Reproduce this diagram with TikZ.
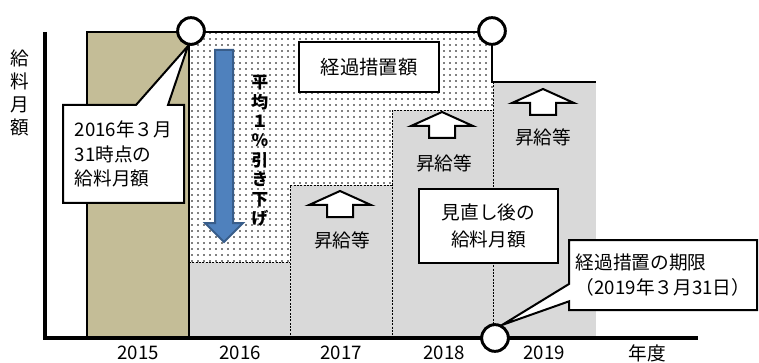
\documentclass[tikz,border=0pt]{standalone}
\usepackage{fontspec}
\setmainfont{Noto Sans CJK JP}
\usepackage{xcolor}
\usetikzlibrary{shapes.callouts,patterns}

\definecolor{tanbar}{HTML}{C4BD97}
\definecolor{graybar}{HTML}{D9D9D9}
\definecolor{cutblue}{HTML}{4F81BD}
\definecolor{cutedge}{HTML}{385D8A}

% sparse dot screen for the transitional amount
\pgfdeclarepatternformonly{sparsedots}{\pgfqpoint{-1pt}{-1pt}}{\pgfqpoint{1pt}{1pt}}{\pgfqpoint{4.5pt}{4.5pt}}%
  {\pgfpathcircle{\pgfqpoint{0pt}{0pt}}{0.65pt}\pgfusepath{fill}}

% white block arrow pointing up, tip at (#1,#2)
\newcommand{\raisearrow}[2]{%
  \draw[upblock] (#1,#2) -- ++(31,14) -- ++(-18,0) -- ++(0,12) -- ++(-26,0)
    -- ++(0,-12) -- ++(-18,0) -- cycle;}

\begin{document}
\begin{tikzpicture}[
    x=0.75pt, y=-0.75pt,
    font=\fontsize{14}{18}\selectfont,
    axisline/.style={line width=2.4pt},
    outline/.style={line width=1.8pt, line join=miter},
    gap/.style={line width=0.6pt, dash pattern=on 1.5pt off 1pt},
    upblock/.style={draw, fill=white, line width=1.5pt, line join=miter},
    lbl/.style={inner sep=0pt},
    textbox/.style={draw, fill=white, inner sep=0pt},
    speech/.style={rectangle callout, draw, fill=white, line width=1.5pt, inner sep=0pt},
    ring/.style={circle, draw, fill=white, line width=2.2pt, minimum size=20pt, inner sep=0pt},
]
    \useasboundingbox (0,0) rectangle (759,363);

    % Transitional amount (dotted)
    \fill[white] (189,32) -- (493,32) -- (493,110) -- (392,110) -- (392,185)
        -- (290,185) -- (290,262) -- (189,262) -- cycle;
    \fill[pattern=sparsedots, pattern color=black] (189,32) -- (493,32) -- (493,110)
        -- (392,110) -- (392,185) -- (290,185) -- (290,262) -- (189,262) -- cycle;

    % Bars
    \fill[tanbar] (87,32) rectangle (189,338);
    \fill[graybar] (189,262) rectangle (290,338);
    \fill[graybar] (290,185) rectangle (392,338);
    \fill[graybar] (392,110) rectangle (493,338);
    \fill[graybar] (493,82) rectangle (596,338);
    \draw[gap] (189,262) -- (290,262);
    \draw[gap] (290,338) -- (290,185) -- (392,185) -- (392,338);
    \draw[gap] (392,185) -- (392,110) -- (493,110);
    \draw[gap] (493,82) -- (493,338);
    \draw[outline] (87,338) -- (87,32) -- (492,32) -- (492,82) -- (596,82);
    \draw[outline] (189,32) -- (189,338);

    % Axes
    \draw[axisline] (45,32) -- (45,338) -- (698,338);
    \node[lbl, align=center, font=\fontsize{14}{17.3}\selectfont] (ylab) at (20,93) {給\\料\\月\\額};
    \foreach \yr/\xc in {2015/138, 2016/240, 2017/341, 2018/444, 2019/544}
        \node[lbl] (yr\yr) at (\xc,353) {\yr};
    \node[lbl] (fy) at (647,353) {年度};

    % Average cut
    \draw[fill=cutblue, draw=cutedge, line width=1.5pt, line join=miter]
        (215,50) -- (233,50) -- (233,223) -- (243,223) -- (224,242)
        -- (205,223) -- (215,223) -- cycle;
    \node[lbl, align=center, font=\fontsize{12.5}{14.6}\selectfont\bfseries] (cut) at (260,151)
        {平\\均\\１\\％\\引\\き\\下\\げ};

    % Raises
    \raisearrow{340}{191}
    \raisearrow{442}{112}
    \raisearrow{543}{89}
    \node[lbl] (raise17) at (342,240) {昇給等};
    \node[lbl] (raise18) at (444,163) {昇給等};
    \node[lbl] (raise19) at (543,137) {昇給等};

    % Boxes
    \node[textbox, line width=1pt, minimum width=105pt, minimum height=37.5pt,
          font=\fontsize{14.5}{18}\selectfont] (trans) at (369,67) {経過措置額};
    \node[textbox, line width=1.1pt, minimum width=104.25pt, minimum height=55.5pt,
          align=center, font=\fontsize{14}{20}\selectfont] (after) at (488.5,226)
        {見直し後の\\給料月額};

    % Callouts
    \coordinate (tipA) at (188,46);
    \coordinate (tipB) at (502,325);
    \node[speech, callout absolute pointer={(tipA)}, callout pointer width=24pt,
          minimum width=90.75pt, minimum height=73.5pt, align=left,
          font=\fontsize{14}{18.4}\selectfont] (asof) at (123.5,154)
        {2016年３月\\31時点の\\給料月額};
    \node[speech, callout absolute pointer={(tipB)}, callout pointer width=13pt,
          minimum width=141pt, minimum height=52.5pt, align=left,
          font=\fontsize{14}{18.75}\selectfont] (limit) at (663,275)
        {経過措置の期限\\（2019年３月31日）};

    % Markers
    \node[ring] (start) at (191,31) {};
    \node[ring] (endtop) at (492,31) {};
    \node[ring] (endaxis) at (495,338) {};

\end{tikzpicture}
\end{document}
